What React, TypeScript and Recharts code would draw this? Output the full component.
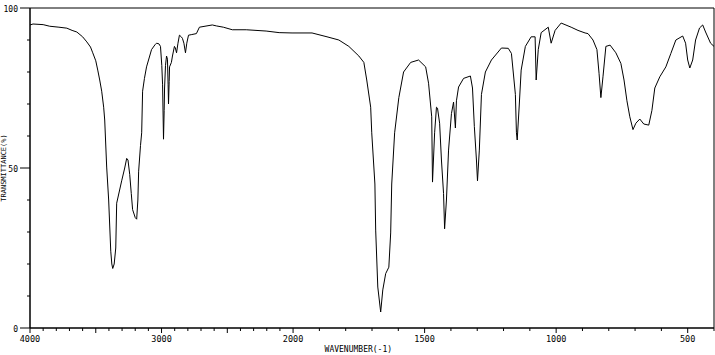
import { Line, LineChart, ReferenceArea, XAxis, YAxis } from "recharts";

// wavenumber (cm-1) from left to right
const WAVENUMBERS = [
  4000, 3977, 3900, 3850, 3780, 3720, 3680, 3644, 3600, 3568, 3540, 3523,
  3500, 3485, 3470, 3455, 3440, 3432, 3417, 3402, 3386, 3378, 3371, 3360,
  3348, 3341, 3303, 3280, 3265, 3255, 3242, 3230, 3220, 3200, 3189, 3180,
  3174, 3160, 3151, 3144, 3130, 3114, 3090, 3076, 3050, 3038, 3020, 3008,
  2998, 2992, 2985, 2980, 2977, 2970, 2962, 2955, 2950, 2947, 2942, 2939,
  2925, 2917, 2902, 2895, 2886, 2875, 2864, 2850, 2841, 2830, 2818, 2808,
  2795, 2770, 2735, 2712, 2614, 2583, 2530, 2462, 2356, 2205, 2106, 2008,
  1928, 1871, 1826, 1788, 1750, 1731, 1720, 1705, 1701, 1689, 1686, 1678,
  1667, 1659, 1648, 1636, 1629, 1625, 1614, 1598, 1580, 1553, 1523, 1496,
  1485, 1473, 1470, 1462, 1455, 1451, 1443, 1436, 1428, 1424, 1417, 1409,
  1398, 1390, 1383, 1379, 1371, 1352, 1326, 1318, 1311, 1303, 1299, 1292,
  1284, 1269, 1246, 1208, 1182, 1170, 1155, 1151, 1148, 1140, 1133, 1117,
  1095, 1080, 1076, 1068, 1057, 1030, 1019, 1004, 981, 943, 917, 890, 879,
  860, 845, 837, 830, 822, 811, 795, 773, 754, 742, 731, 720, 708, 697, 682,
  667, 648, 636, 625, 606, 583, 564, 545, 519, 508, 500, 492, 481, 470, 455,
  443, 432, 413, 400,
];

// transmittance (%)
const TRANSMITTANCE = [
  94.7, 95.0, 94.8, 94.3, 94.0, 93.7, 93.0, 92.5, 91.0, 89.4, 87.8, 86.0,
  83.5, 80.6, 77.5, 74.0, 69.0, 65.0, 50.3, 40.0, 24.0, 20.0, 18.6, 20.0,
  25.0, 39.0, 46.0, 50.0, 53.0, 52.5, 48.0, 42.0, 37.0, 34.5, 34.0, 40.0,
  49.0, 57.0, 61.0, 74.0, 78.0, 81.6, 85.0, 87.0, 88.5, 89.0, 88.8, 88.0,
  82.0, 76.0, 59.0, 68.0, 75.0, 82.0, 85.0, 84.0, 76.0, 70.0, 77.0, 81.6,
  83.0, 85.0, 88.0, 87.5, 86.0, 89.0, 91.5, 91.0, 90.5, 89.0, 86.0, 89.0,
  91.5, 91.7, 92.0, 94.0, 94.7, 94.4, 94.0, 93.2, 93.2, 92.8, 92.3, 92.2,
  92.2, 91.0, 90.0, 88.0, 85.0, 83.0, 77.5, 69.0, 61.0, 45.0, 30.6, 12.8,
  5.0, 11.9, 17.0, 19.0, 29.7, 45.0, 61.0, 72.0, 80.0, 83.0, 83.75, 81.6,
  76.5, 66.0, 45.6, 61.0, 69.0, 68.7, 64.0, 52.5, 42.0, 31.0, 40.0, 55.6,
  67.0, 70.6, 62.5, 71.0, 75.3, 78.0, 78.75, 75.0, 63.0, 52.5, 46.0, 55.6,
  73.0, 80.0, 83.75, 87.5, 87.4, 85.8, 73.0, 61.0, 58.75, 70.0, 80.6, 88.0,
  91.0, 91.0, 77.5, 87.0, 92.3, 94.0, 89.0, 93.0, 95.3, 94.0, 93.0, 92.2, 92.0,
  90.0, 87.0, 79.6, 72.0, 78.5, 88.0, 88.4, 86.0, 82.7, 77.5, 71.0, 66.0, 62.0,
  64.0, 65.3, 63.75, 63.4, 68.0, 75.0, 78.5, 81.6, 85.8, 90.0, 91.25, 89.0,
  83.75, 81.25, 83.75, 90.0, 93.75, 94.7, 92.5, 89.0, 88.0,
];

const X_LABELS = [4000, 3000, 2000, 1500, 1000, 500];
const Y_LABELS = [0, 50, 100];
const Y_TICKS = [0, 10, 20, 30, 40, 50, 60, 70, 80, 90, 100];

// the axis is compressed 2x above 2000 cm-1
const toU = (w: number) => (w >= 2000 ? (4000 - w) / 2 : 1000 + (2000 - w));
const fromU = (u: number) =>
  Math.round(u <= 1000 ? 4000 - u * 2 : 2000 - (u - 1000));

const xTicks: number[] = [];
for (let w = 4000; w >= 400; w -= 100) xTicks.push(toU(w));

const data = WAVENUMBERS.map((w, i) => ({ u: toU(w), t: TRANSMITTANCE[i] }));

const FONT = "DejaVu Sans Mono";

function XTick({ x, y, payload }: any) {
  const w = fromU(payload.value);
  const len = w % 500 === 0 ? 5 : 3;
  return (
    <g>
      <line x1={x} x2={x} y1={y} y2={y + len} stroke="#000" />
      {X_LABELS.includes(w) && (
        <text
          x={x}
          y={y + 11}
          textAnchor="middle"
          dominantBaseline="central"
          fontFamily={FONT}
          fontSize={8.5}
          fill="#000"
        >
          {w}
        </text>
      )}
    </g>
  );
}

function YTick({ x, y, payload }: any) {
  const v = payload.value;
  const major = Y_LABELS.includes(v);
  return (
    <g>
      <line x1={x - (major ? 10 : 3)} x2={x} y1={y} y2={y} stroke="#000" />
      {major && (
        <text
          x={x - 12}
          y={y + 1}
          textAnchor="end"
          dominantBaseline="central"
          fontFamily={FONT}
          fontSize={8}
          fill="#000"
        >
          {v}
        </text>
      )}
    </g>
  );
}

export default function App() {
  return (
    <div style={{ position: "absolute", left: 0, top: 0, background: "#fff" }}>
      <LineChart
        width={715}
        height={355}
        data={data}
        margin={{ top: 8, right: 1, bottom: 0, left: 0 }}
      >
        <XAxis
          type="number"
          dataKey="u"
          domain={[0, 2600]}
          ticks={xTicks}
          interval={0}
          tick={<XTick />}
          tickLine={false}
          tickSize={0}
          tickMargin={0}
          height={27}
          axisLine={{ stroke: "#000" }}
          label={{
            content: ({ viewBox }: any) => (
              <text
                x={viewBox.x + viewBox.width * 0.48}
                y={viewBox.y + 21}
                textAnchor="middle"
                dominantBaseline="central"
                fontFamily={FONT}
                fontSize={8}
                fill="#000"
              >
                WAVENUMBER(-1)
              </text>
            ),
          }}
        />
        <YAxis
          type="number"
          domain={[0, 100]}
          ticks={Y_TICKS}
          interval={0}
          tick={<YTick />}
          tickLine={false}
          tickSize={0}
          tickMargin={0}
          width={30}
          axisLine={{ stroke: "#000" }}
          label={{
            content: ({ viewBox }: any) => (
              <text
                x={viewBox.x + 4}
                y={viewBox.y + viewBox.height / 2}
                transform={`rotate(-90 ${viewBox.x + 4} ${viewBox.y + viewBox.height / 2})`}
                textAnchor="middle"
                dominantBaseline="central"
                fontFamily={FONT}
                fontSize={7}
                fill="#000"
              >
                TRANSMITTANCE(%)
              </text>
            ),
          }}
        />
        <ReferenceArea
          x1={0}
          x2={2600}
          y1={0}
          y2={100}
          fill="none"
          stroke="#000"
          ifOverflow="visible"
        />
        <Line
          type="linear"
          dataKey="t"
          stroke="#000"
          strokeWidth={1}
          dot={false}
          isAnimationActive={false}
        />
      </LineChart>
    </div>
  );
}
